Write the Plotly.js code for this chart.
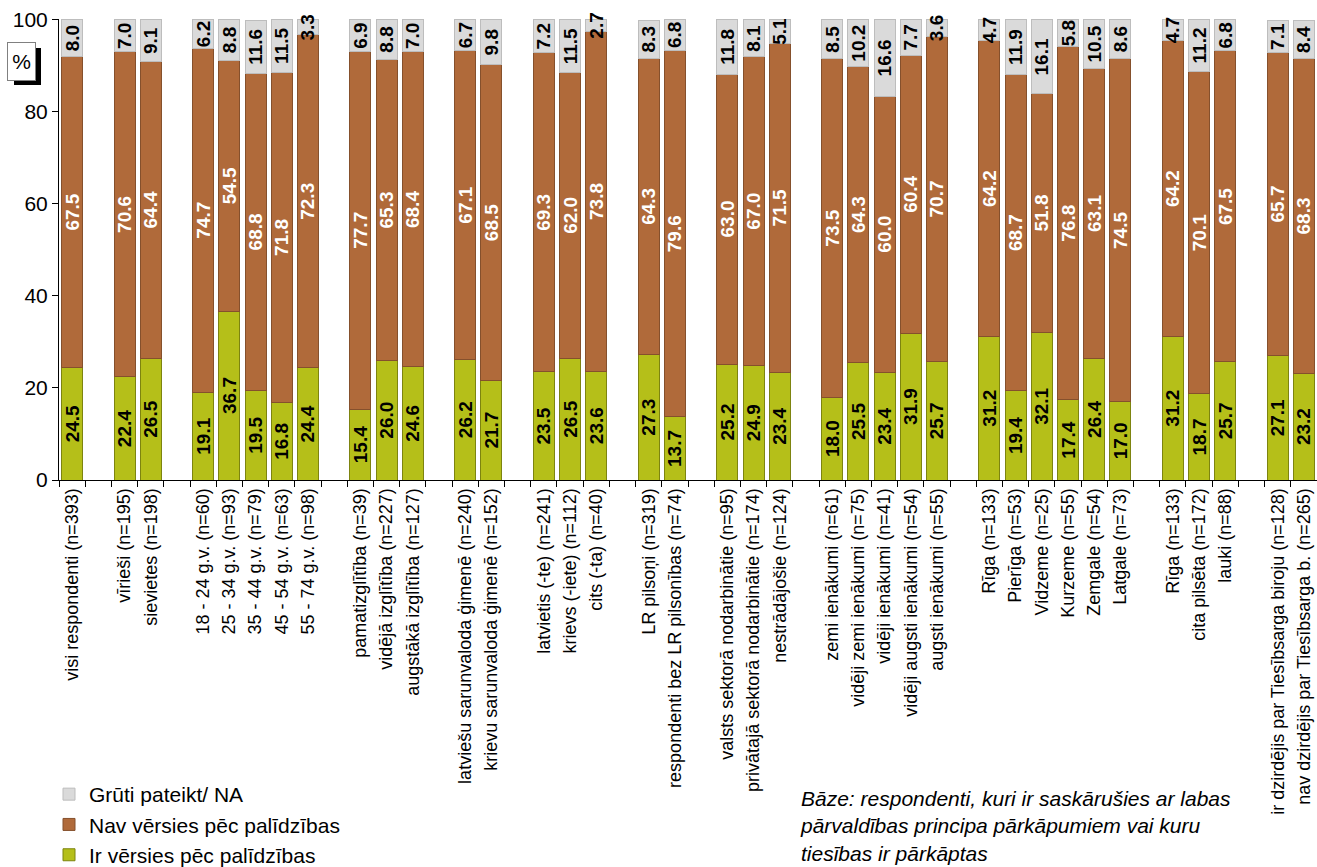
<!DOCTYPE html>
<html>
<head>
<meta charset="utf-8">
<script src="https://cdn.plot.ly/plotly-3.0.1.min.js"></script>
<style>
  html, body { margin: 0; padding: 0; background: #ffffff; }
  #chart { width: 1317px; height: 867px; }
</style>
</head>
<body>
<div id="chart"></div>
<script>
// Category labels (null = empty gap slot between groups)
const categories = [
  "visi respondenti (n=393)", null,
  "vīrieši (n=195)", "sievietes (n=198)", null,
  "18 - 24 g.v. (n=60)", "25 - 34 g.v. (n=93)", "35 - 44 g.v. (n=79)", "45 - 54 g.v. (n=63)", "55 - 74 g.v. (n=98)", null,
  "pamatizglītība (n=39)", "vidējā izglītība (n=227)", "augstākā izglītība (n=127)", null,
  "latviešu sarunvaloda ģimenē (n=240)", "krievu sarunvaloda ģimenē (n=152)", null,
  "latvietis (-te) (n=241)", "krievs (-iete) (n=112)", "cits (-ta) (n=40)", null,
  "LR pilsoņi (n=319)", "respondenti bez LR pilsonības (n=74)", null,
  "valsts sektorā nodarbinātie (n=95)", "privātajā sektorā nodarbinātie (n=174)", "nestrādājošie (n=124)", null,
  "zemi ienākumi (n=61)", "vidēji zemi ienākumi (n=75)", "vidēji ienākumi (n=41)", "vidēji augsti ienākumi (n=54)", "augsti ienākumi (n=55)", null,
  "Rīga (n=133)", "Pierīga (n=53)", "Vidzeme (n=25)", "Kurzeme (n=55)", "Zemgale (n=54)", "Latgale (n=73)", null,
  "Rīga (n=133)", "cita pilsēta (n=172)", "lauki (n=88)", null,
  "ir dzirdējis par Tiesībsarga biroju (n=128)", "nav dzirdējis par Tiesībsarga b. (n=265)"
];

const irVersies = [
  24.5, null,
  22.4, 26.5, null,
  19.1, 36.7, 19.5, 16.8, 24.4, null,
  15.4, 26.0, 24.6, null,
  26.2, 21.7, null,
  23.5, 26.5, 23.6, null,
  27.3, 13.7, null,
  25.2, 24.9, 23.4, null,
  18.0, 25.5, 23.4, 31.9, 25.7, null,
  31.2, 19.4, 32.1, 17.4, 26.4, 17.0, null,
  31.2, 18.7, 25.7, null,
  27.1, 23.2
];

const navVersies = [
  67.5, null,
  70.6, 64.4, null,
  74.7, 54.5, 68.8, 71.8, 72.3, null,
  77.7, 65.3, 68.4, null,
  67.1, 68.5, null,
  69.3, 62.0, 73.8, null,
  64.3, 79.6, null,
  63.0, 67.0, 71.5, null,
  73.5, 64.3, 60.0, 60.4, 70.7, null,
  64.2, 68.7, 51.8, 76.8, 63.1, 74.5, null,
  64.2, 70.1, 67.5, null,
  65.7, 68.3
];

const grutiPateikt = [
  8.0, null,
  7.0, 9.1, null,
  6.2, 8.8, 11.6, 11.5, 3.3, null,
  6.9, 8.8, 7.0, null,
  6.7, 9.8, null,
  7.2, 11.5, 2.7, null,
  8.3, 6.8, null,
  11.8, 8.1, 5.1, null,
  8.5, 10.2, 16.6, 7.7, 3.6, null,
  4.7, 11.9, 16.1, 5.8, 10.5, 8.6, null,
  4.7, 11.2, 6.8, null,
  7.1, 8.4
];

const yTicks = [0, 20, 40, 60, 80, 100];

const seriesNames = ["Ir vērsies pēc palīdzības", "Nav vērsies pēc palīdzības", "Grūti pateikt/ NA"];
const seriesColors = ["#b5bf19", "#b06a3a", "#dadada"];
const seriesLines = ["#7d840f", "#85502c", "#bdbdbd"];
const textColors = ["#000000", "#ffffff", "#000000"];
const legendRanks = [3, 2, 1];

const slotIds = categories.map((c, i) => "s" + i);
const tickText = categories.map(c => c === null ? "" : c);
const fmt = arr => arr.map(v => v === null ? "" : v.toFixed(1));

const FONT = "Arial, 'Liberation Sans', sans-serif";

const traces = [irVersies, navVersies, grutiPateikt].map((vals, k) => ({
  type: "bar",
  name: seriesNames[k],
  x: slotIds,
  y: vals,
  text: fmt(vals),
  textposition: "inside",
  insidetextanchor: "middle",
  textangle: -90,
  constraintext: "none",
  cliponaxis: false,
  textfont: { family: FONT, size: 19, color: textColors[k], weight: "bold" },
  marker: { color: seriesColors[k], line: { color: seriesLines[k], width: 1 } },
  legendgroup: "g" + k,
  legendrank: legendRanks[k],
  hoverinfo: "skip"
}));

const W = 1317, H = 867, L = 59, T = 19, B = 387;
const pw = W - L, ph = H - T - B;
const px = x => (x - L) / pw;
const py = y => (H - B - y) / ph;

const layout = {
  width: W, height: H,
  margin: { l: L, r: 0, t: T, b: B, pad: 0, autoexpand: false },
  paper_bgcolor: "#ffffff",
  plot_bgcolor: "#ffffff",
  barmode: "stack",
  bargap: 0.2,
  font: { family: FONT, color: "#000000" },
  showlegend: true,
  legend: {
    x: px(49), y: py(774), xanchor: "left", yanchor: "top",
    traceorder: "grouped",
    tracegroupgap: 0,
    font: { family: FONT, size: 21, color: "#000000" },
    bgcolor: "rgba(0,0,0,0)",
    itemwidth: 30
  },
  xaxis: {
    type: "category",
    categoryorder: "array",
    categoryarray: slotIds,
    tickmode: "array",
    tickvals: slotIds,
    ticktext: tickText,
    tickson: "boundaries",
    ticks: "outside",
    ticklen: 6,
    tickcolor: "#000000",
    tickangle: -90,
    tickfont: { family: FONT, size: 18, color: "#000000" },
    showline: true,
    linecolor: "#000000",
    linewidth: 1,
    showgrid: false,
    zeroline: false,
    automargin: false,
    range: [-0.5, categories.length - 0.5],
    fixedrange: true
  },
  yaxis: {
    range: [0, 100.15],
    tickmode: "array",
    tickvals: yTicks,
    ticks: "outside",
    ticklen: 6,
    tickcolor: "#000000",
    tickfont: { family: FONT, size: 21, color: "#000000" },
    showline: true,
    linecolor: "#000000",
    linewidth: 1,
    showgrid: false,
    zeroline: false,
    automargin: false,
    fixedrange: true
  },
  shapes: [
    { type: "rect", xref: "paper", yref: "paper",
      x0: px(14), x1: px(41), y0: py(85), y1: py(48),
      fillcolor: "#000000", line: { width: 0 }, layer: "above" }
  ],
  annotations: [
    { xref: "paper", yref: "paper", x: px(21.5), y: py(61.5),
      xanchor: "center", yanchor: "middle",
      text: "%", showarrow: false,
      font: { family: FONT, size: 21, color: "#000000" },
      bgcolor: "#ffffff", bordercolor: "#808080", borderwidth: 1,
      width: 25, height: 35 },
    { xref: "paper", yref: "paper", x: px(798), y: py(785),
      xanchor: "left", yanchor: "top", align: "left",
      text: "<i>Bāze: respondenti, kuri ir saskārušies ar labas<br>pārvaldības principa pārkāpumiem vai kuru<br>tiesības ir pārkāptas</i>",
      showarrow: false,
      font: { family: FONT, size: 21, color: "#000000" } }
  ]
};

Plotly.newPlot("chart", traces, layout, { displayModeBar: false, staticPlot: true });
</script>
</body>
</html>
